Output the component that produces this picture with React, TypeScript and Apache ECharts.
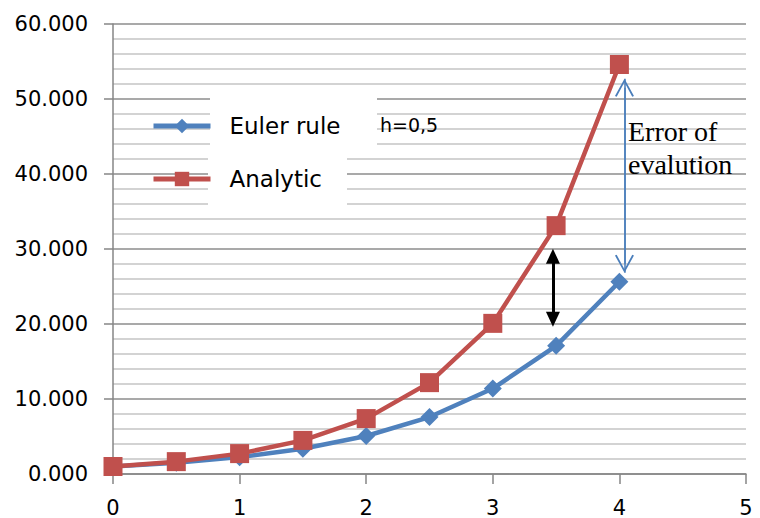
import React, { useEffect, useRef } from "react";
import * as echarts from "echarts";

const xValues = [0, 0.5, 1, 1.5, 2, 2.5, 3, 3.5, 4];
const eulerValues = [1.0, 1.5, 2.25, 3.375, 5.063, 7.594, 11.391, 17.086, 25.629];
const analyticValues = [1.0, 1.649, 2.718, 4.482, 7.389, 12.182, 20.086, 33.115, 54.598];
const seriesNames = ["Euler rule", "Analytic"];
const stepLabel = "h=0,5";
const errorText = "Error of\nevalution";
// black arrow: [x, head centre top, head centre bottom]
const errorArrowBlack = [3.475, 29.04, 20.64];
// blue arrow: [x, tip top, tip bottom, chevron centre top, chevron centre bottom]
const errorArrowBlue = [4.04, 52.7, 26.85, 51.5, 28.05];

const FONT = "DejaVu Sans";

export default function App() {
  const ref = useRef<HTMLDivElement>(null);
  useEffect(() => {
    if (!ref.current) return;
    const chart = echarts.init(ref.current, null, { renderer: "svg" });
    const chevron = "path://M10,0 L20,18 L18.2,18.8 L10,3.6 L1.8,18.8 L0,18 Z";
    const blueLine = { color: "#4a7ebb", width: 1.5, type: "solid" };
    chart.setOption({
      animation: false,
      backgroundColor: "#ffffff",
      grid: { left: 113, right: 14, top: 24, bottom: 44, containLabel: false },
      xAxis: {
        type: "value",
        min: 0,
        max: 5,
        interval: 1,
        axisLine: { show: true, lineStyle: { color: "#868686", width: 1.5 } },
        axisTick: { show: true, length: 10, lineStyle: { color: "#868686", width: 1.5 } },
        axisLabel: { fontFamily: FONT, fontSize: 21, color: "#000", margin: 23 },
        splitLine: { show: false },
      },
      yAxis: {
        type: "value",
        min: 0,
        max: 60,
        interval: 10,
        axisLine: { show: true, lineStyle: { color: "#868686", width: 1.5 } },
        axisTick: { show: true, length: 9, lineStyle: { color: "#868686", width: 1.5 } },
        axisLabel: {
          fontFamily: FONT,
          fontSize: 21,
          color: "#000",
          margin: 25,
          formatter: (v: number) => v.toFixed(3),
        },
        splitLine: { show: true, lineStyle: { color: "#8c8c8c", width: 1.5 } },
        minorTick: { show: false, splitNumber: 5 },
        minorSplitLine: { show: true, lineStyle: { color: "#c4c4c4", width: 1.5 } },
      },
      legend: {
        orient: "vertical",
        left: 151,
        top: 113,
        padding: 0,
        itemWidth: 57,
        itemHeight: 18,
        itemGap: 27,
        data: seriesNames,
        lineStyle: { width: 5 },
        textStyle: {
          fontFamily: FONT,
          fontSize: 23,
          color: "#000",
          lineHeight: 26,
          padding: [0, 0, 0, 14],
        },
        z: 5,
      },
      graphic: [
        { type: "rect", left: 210, top: 94, shape: { width: 167, height: 57 }, style: { fill: "#fff" }, z: 3 },
        { type: "rect", left: 208, top: 151, shape: { width: 139, height: 60 }, style: { fill: "#fff" }, z: 3 },
        {
          type: "text",
          left: 380,
          top: 115,
          style: { text: stepLabel, fontFamily: FONT, fontSize: 19, fill: "#000" },
          z: 5,
        },
        {
          type: "text",
          left: 628,
          top: 115,
          style: {
            text: errorText,
            fontFamily: "Liberation Serif",
            fontSize: 28,
            lineHeight: 33,
            fill: "#000",
          },
          z: 5,
        },
      ],
      series: [
        {
          name: seriesNames[0],
          type: "line",
          data: xValues.map((x, i) => [x, eulerValues[i]]),
          symbol: "diamond",
          symbolSize: 18,
          lineStyle: { color: "#4F81BD", width: 4.5 },
          itemStyle: { color: "#4F81BD" },
          z: 3,
          markLine: {
            silent: true,
            label: { show: false },
            symbol: ["none", "none"],
            lineStyle: blueLine,
            data: [
              [
                { coord: [errorArrowBlue[0], errorArrowBlue[1]] },
                { coord: [errorArrowBlue[0], errorArrowBlue[2]] },
              ],
              [
                { coord: [errorArrowBlue[0], errorArrowBlue[3]], symbol: chevron, symbolSize: [19, 18] },
                { coord: [errorArrowBlue[0], errorArrowBlue[4]], symbol: chevron, symbolSize: [19, 18] },
              ],
            ],
          },
        },
        {
          name: seriesNames[1],
          type: "line",
          data: xValues.map((x, i) => [x, analyticValues[i]]),
          symbol: "rect",
          symbolSize: 19,
          lineStyle: { color: "#C0504D", width: 4.5 },
          itemStyle: { color: "#C0504D" },
          z: 4,
          markLine: {
            silent: true,
            label: { show: false },
            symbol: ["triangle", "triangle"],
            symbolSize: [14, 15],
            lineStyle: { color: "#000", width: 3, type: "solid" },
            data: [
              [
                { coord: [errorArrowBlack[0], errorArrowBlack[1]] },
                { coord: [errorArrowBlack[0], errorArrowBlack[2]] },
              ],
            ],
          },
        },
      ],
    });
    return () => chart.dispose();
  }, []);
  return (
    <div
      ref={ref}
      style={{ position: "fixed", left: 0, top: 0, width: 760, height: 518 }}
    />
  );
}
